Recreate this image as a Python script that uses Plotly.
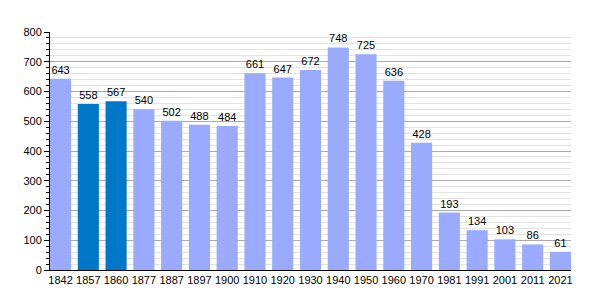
import plotly.graph_objects as go

years = ["1842", "1857", "1860", "1877", "1887", "1897", "1900", "1910", "1920", "1930",
         "1940", "1950", "1960", "1970", "1981", "1991", "2001", "2011", "2021"]
population = [643, 558, 567, 540, 502, 488, 484, 661, 647, 672, 748, 725, 636, 428, 193, 134, 103, 86, 61]
highlight = ["1857", "1860"]

light = "#99AAFF"
dark = "#0077C8"
colors = [dark if y in highlight else light for y in years]

fig = go.Figure(go.Bar(
    x=years, y=population, marker=dict(color=colors, line=dict(width=0)),
    text=[str(v) for v in population], textposition="outside",
    textfont=dict(family="Liberation Sans, Arial", size=11, color="#000"),
    cliponaxis=False,
))

fig.update_layout(
    width=600, height=300,
    margin=dict(l=50, r=29, t=32, b=30),
    paper_bgcolor="white", plot_bgcolor="white",
    bargap=0.24, showlegend=False,
    font=dict(family="Liberation Sans, Arial", size=11, color="#000"),
    uniformtext=dict(mode=False),
)
fig.update_xaxes(
    type="category", range=[-0.38, 18.38],
    showline=True, linecolor="#000", linewidth=1,
    ticks="", showgrid=False, tickfont=dict(size=11),
)
fig.update_yaxes(
    range=[0, 800], dtick=100, tick0=0,
    showline=True, linecolor="#000", linewidth=1,
    ticks="outside", ticklen=5, tickcolor="#000",
    showgrid=True, gridcolor="#AAAAAA", gridwidth=1,
    minor=dict(dtick=20, showgrid=True, gridcolor="#E2E2E2", ticks="outside", ticklen=3, tickcolor="#000"),
    zeroline=False, tickfont=dict(size=11),
)

fig.write_html("out.html")
